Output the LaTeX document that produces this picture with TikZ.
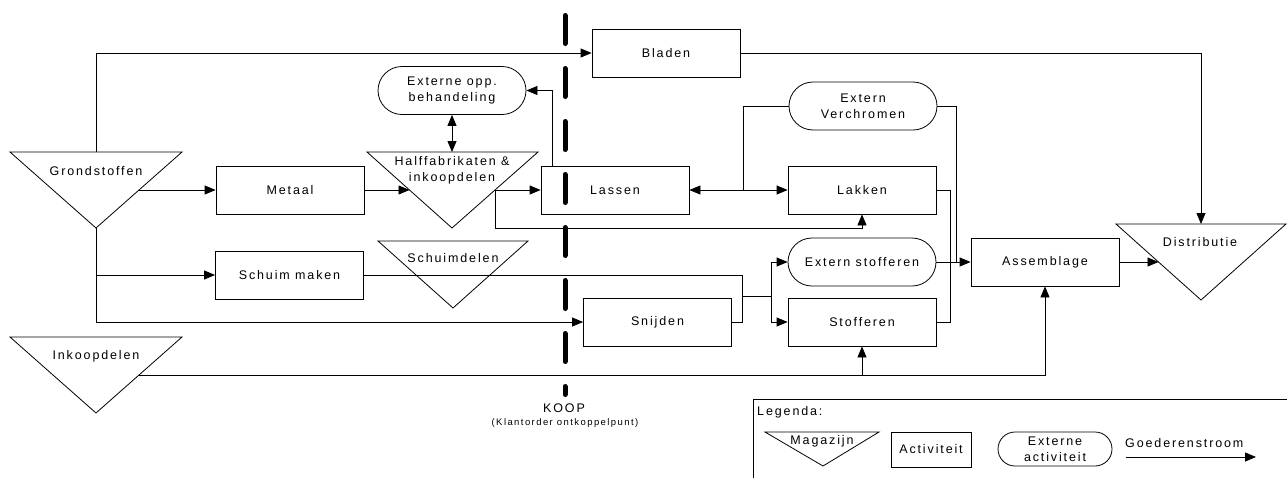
\documentclass[tikz,border=0pt]{standalone}
\usepackage{fontspec}
\setmainfont{Liberation Sans}[LetterSpace=15]
\usetikzlibrary{arrows.meta,shapes.misc,calc}
\newcommand\lblfont{\fontsize{12.5}{16}\selectfont}
\newcommand\subfont{\fontsize{9.5}{11}\selectfont}

\begin{document}
\begin{tikzpicture}[x=1pt,y=-1pt,
  every node/.style={font=\lblfont, inner sep=0pt, align=center},
  activity/.style={draw, line width=0.8pt, minimum width=148pt, minimum height=48pt},
  external/.style={draw, rounded rectangle, line width=0.8pt, minimum width=148pt, minimum height=48pt},
  store/.style={line width=0.8pt, line join=miter},
  link/.style={line width=0.8pt},
  tip/.style={Triangle[length=11pt,width=9pt]},
  flow/.style={link, -{Triangle[length=11pt,width=9pt]}},
  twoway/.style={link, {Triangle[length=11pt,width=9pt]}-{Triangle[length=11pt,width=9pt]}},
  koop/.style={line width=5pt, line cap=round, dash pattern=on 28pt off 25pt},
]
\clip (0,0) rectangle (1287,477);

% ---- stores (downward triangles) ----
\coordinate (g1) at (10,152);  \coordinate (g2) at (182,152); \coordinate (g3) at (96,228);
\draw[store] (g1) -- (g2) -- (g3) -- cycle;
\node (grond) at (96,171) {Grondstoffen};

\coordinate (h1) at (367,152); \coordinate (h2) at (538,152); \coordinate (h3) at (452,228);
\draw[store] (h1) -- (h2) -- (h3) -- cycle;
\node (halff) at (452,170.5) {Halffabrikaten \&\\inkoopdelen};

\coordinate (s1) at (378,241); \coordinate (s2) at (528,241); \coordinate (s3) at (453,308);
\draw[store] (s1) -- (s2) -- (s3) -- cycle;
\node (schuimd) at (453,258) {Schuimdelen};

\coordinate (i1) at (10,337);  \coordinate (i2) at (182,337); \coordinate (i3) at (96,413);
\draw[store] (i1) -- (i2) -- (i3) -- cycle;
\node (inkoop) at (96,356) {Inkoopdelen};

\coordinate (d1) at (1116,224); \coordinate (d2) at (1286,224); \coordinate (d3) at (1201,300);
\draw[store] (d1) -- (d2) -- (d3) -- cycle;
\node (distr) at (1200,242) {Distributie};

% connection points on the triangle sides
\coordinate (gout) at ($(g2)!0.5!(g3)$);
\coordinate (gtop) at (96,152);
\coordinate (hin)  at ($(h1)!0.5!(h3)$);
\coordinate (hout) at ($(h2)!0.5!(h3)$);
\coordinate (htop) at (452,152);
\coordinate (iout) at ($(i2)!0.5!(i3)$);
\coordinate (dleft) at ($(d1)!0.5!(d3)$);
\coordinate (dtop) at (1201,224);

% ---- activities ----
\node[activity] (metaal)  at (290,190)   {Metaal};
\node[activity] (lassen)  at (615,190)   {Lassen};
\node[activity] (lakken)  at (862,190)   {Lakken};
\node[activity] (bladen)  at (666,53)    {Bladen};
\node[activity] (schuim)  at (289.5,275) {Schuim maken};
\node[activity] (snijden) at (657.5,322) {Snijden};
\node[activity] (stoff)   at (862,322)   {Stofferen};
\node[activity] (assem)   at (1045,262)  {Assemblage};

% ---- external activities ----
\node[external] (extopp)  at (452,90.5) {Externe opp.\\behandeling};
\node[external] (verchr)  at (863,106)  {Extern\\Verchromen};
\node[external] (extstof) at (862,262)  {Extern stofferen};

% ---- goods flow ----
\draw[flow] (gtop) |- (bladen.west);
\draw[flow] (gout) -- (metaal.west);
\draw[flow] (metaal.east) -- (hin);
\draw[flow] (hout) -- (lassen.west);
\coordinate (hdown) at (495,228);
\draw[flow] (hout) -- (hdown) -| (lakken.south);
\coordinate (lup) at (552,166);
\draw[flow] (lup) |- (extopp.east);
\draw[twoway] (extopp.south) -- (htop);
\draw[twoway] (lassen.east) -- (lakken.west);
\coordinate (lbr) at (743,190);
\draw[link] (lbr) |- (verchr.west);
\coordinate (vdown) at (956,262);
\draw[link] (verchr.east) -| (vdown);
\coordinate (lakdown) at (950,322);
\draw[link] (lakken.east) -| (lakdown) -- (stoff.east);
\draw[flow] (extstof.east) -- (assem.west);
\draw[flow] (assem.east) -- (dleft);
\draw[flow] (bladen.east) -| (dtop);

\draw[flow] (g3) |- (snijden.west);
\coordinate (gbr) at (96,275);
\draw[flow] (gbr) -- (schuim.west);
\coordinate (sj) at (742,322);
\draw[link] (schuim.east) -| (sj) -- (snijden.east);
\coordinate (sa) at (742,296);
\coordinate (sb) at (771,296);
\draw[link] (sa) -- (sb);
\draw[flow] (sb) |- (extstof.west);
\draw[flow] (sb) |- (stoff.west);

\draw[flow] (iout) -| (assem.south);
\coordinate (ibr) at (862,375);
\draw[flow] (ibr) -- (stoff.south);

% ---- customer order decoupling point ----
\coordinate (ktop) at (565,15.5);
\coordinate (kbot) at (565,394.5);
\draw[koop] (ktop) -- (kbot);
\node (koop) at (564,408) {KOOP};
\node (koopsub) at (565,423) {\subfont (Klantorder ontkoppelpunt)};

% ---- legend ----
\draw[link] (753,399) rectangle (1300,490);
\node[anchor=west] (legtitle) at (757,412) {Legenda:};
\coordinate (m1) at (765,432); \coordinate (m2) at (879,432); \coordinate (m3) at (823,466);
\draw[store] (m1) -- (m2) -- (m3) -- cycle;
\node (legmag) at (822,441) {Magazijn};
\node[activity, minimum width=80pt, minimum height=35pt] (legact) at (931,449.5) {Activiteit};
\node[external, minimum width=114pt, minimum height=34pt] (legext) at (1055,449) {Externe\\activiteit};
\node[anchor=west] (legflow) at (1125,443) {Goederenstroom};
\coordinate (la1) at (1126,457); \coordinate (la2) at (1256,457);
\draw[flow] (la1) -- (la2);
\end{tikzpicture}
\end{document}
